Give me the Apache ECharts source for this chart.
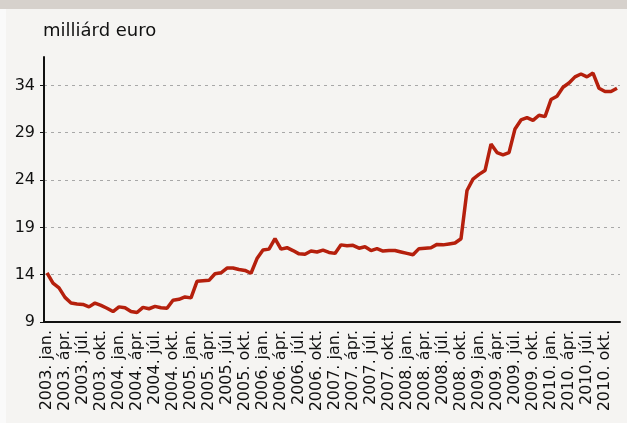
<!DOCTYPE html>
<html>
<head>
<meta charset="utf-8">
<title>milliárd euro</title>
<script src="https://cdn.jsdelivr.net/npm/echarts@6/dist/echarts.min.js"></script>
<style>
  html, body { margin: 0; padding: 0; background: #f5f4f2; }
  #chart { width: 627px; height: 423px; }
</style>
</head>
<body>
<div id="chart"></div>
<script>
// evek es honapok (havi adatok, negyedevente felirat)
var years = ['2003', '2004', '2005', '2006', '2007', '2008', '2009', '2010'];
var months = ['jan.', 'febr.', 'márc.', 'ápr.', 'máj.', 'jún.', 'júl.', 'aug.', 'szept.', 'okt.', 'nov.', 'dec.'];

// milliard euro, 2003. jan. - 2010. dec.
var values = [
  14.2, 13.1, 12.6, 11.6, 11.0, 10.9, 10.85, 10.6, 11.0, 10.75, 10.45, 10.1,
  10.6, 10.5, 10.1, 10.0, 10.55, 10.4, 10.65, 10.5, 10.45, 11.3, 11.4, 11.65,
  11.55, 13.3, 13.35, 13.4, 14.1, 14.2, 14.7, 14.7, 14.55, 14.45, 14.15, 15.7,
  16.6, 16.7, 17.8, 16.7, 16.85, 16.55, 16.2, 16.15, 16.5, 16.4, 16.6, 16.35,
  16.25, 17.15, 17.05, 17.1, 16.8, 16.95, 16.55, 16.75, 16.5, 16.55, 16.55, 16.4,
  16.25, 16.1, 16.75, 16.8, 16.85, 17.2, 17.15, 17.25, 17.35, 17.8, 22.9, 24.1,
  24.6, 25.0, 27.8, 26.9, 26.65, 26.9, 29.4, 30.35, 30.6, 30.3, 30.85, 30.7,
  32.5, 32.85, 33.8, 34.25, 34.9, 35.2, 34.9, 35.3, 33.7, 33.35, 33.35, 33.7
];

var categories = [];
years.forEach(function (y) {
  months.forEach(function (m) {
    categories.push(y + '. ' + m);
  });
});

var myChart = echarts.init(document.getElementById('chart'));

var option = {
  backgroundColor: '#f5f4f2',
  animation: false,
  textStyle: { fontFamily: 'DejaVu Sans' },
  graphic: [
    { type: 'rect', left: 0, top: 0, shape: { width: 627, height: 9 }, style: { fill: '#d6d1cc' }, silent: true },
    { type: 'rect', left: 0, top: 9, shape: { width: 6, height: 414 }, style: { fill: '#fafafa' }, silent: true }
  ],
  title: {
    text: 'milliárd euro',
    left: 43,
    top: 22,
    padding: 0,
    textStyle: { fontSize: 18, fontWeight: 'normal', color: '#111', fontFamily: 'DejaVu Sans' }
  },
  grid: { left: 44, right: 7, top: 57, bottom: 101 },
  xAxis: {
    type: 'category',
    data: categories,
    boundaryGap: true,
    axisLine: { lineStyle: { color: '#111', width: 2 } },
    axisTick: { interval: 0, length: 3, lineStyle: { color: '#111', width: 2 } },
    axisLabel: {
      interval: 2,
      rotate: 90,
      margin: 8,
      fontSize: 16,
      color: '#111',
      fontFamily: 'DejaVu Sans'
    },
    splitLine: { show: false }
  },
  yAxis: {
    type: 'value',
    min: 9,
    max: 37,
    interval: 5,
    axisLine: { show: true, lineStyle: { color: '#111', width: 2 } },
    axisTick: { show: true, length: 4, lineStyle: { color: '#111', width: 1 } },
    axisLabel: { fontSize: 16, color: '#111', margin: 9, showMaxLabel: false, fontFamily: 'DejaVu Sans' },
    splitLine: { show: true, showMaxLine: false, lineStyle: { color: '#a8a8a8', type: [3, 4], width: 1 } }
  },
  series: [{
    type: 'line',
    data: values,
    symbol: 'none',
    lineStyle: { color: '#b5200d', width: 3.5 },
    z: 3
  }]
};

myChart.setOption(option);
</script>
</body>
</html>
